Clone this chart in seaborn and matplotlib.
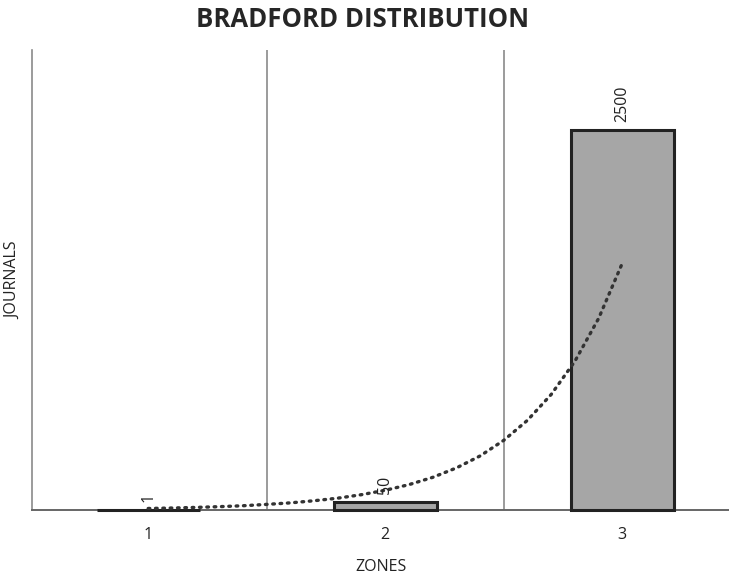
import matplotlib
matplotlib.use("Agg")
import matplotlib.pyplot as plt
import seaborn as sns
import pandas as pd

# Bradford zones and journal counts
zones = ["1", "2", "3"]
journals = [1, 50, 2500]

# dotted trend curve (zone position, value)
trend_x = [1.0, 1.1, 1.2, 1.3, 1.4, 1.5, 1.6, 1.7, 1.8, 1.9, 2.0,
           2.1, 2.2, 2.3, 2.4, 2.5, 2.6, 2.7, 2.8, 2.9, 3.0]
trend_y = [10, 13, 17, 22, 28, 37, 47, 61, 78, 101, 130,
           167, 215, 277, 356, 459, 591, 761, 980, 1262, 1626]

df = pd.DataFrame({"zone": zones, "journals": journals})

sns.set_theme(style="white")
plt.rcParams["font.family"] = ["Open Sans", "DejaVu Sans"]

fig = plt.figure(figsize=(7.29, 5.75), dpi=100)
ax = fig.add_axes([32 / 729, 1 - 510 / 575, 1 - 32 / 729, 460 / 575])

sns.barplot(data=df, x="zone", y="journals", color="#a6a6a6",
            edgecolor="#222222", linewidth=2.2, width=0.435, saturation=1,
            ax=ax, zorder=2.6)
# let the bar outlines sit over the baseline (zone 1 is just an outline)
for bar in ax.patches:
    bar.set_clip_on(False)

# zone separators
for sep in [0.5, 1.5]:
    ax.axvline(sep, color="#8a8a8a", linewidth=1.2, zorder=1)

# trend curve (zone positions are 0-based on the seaborn axis)
ax.plot([x - 1 for x in trend_x], trend_y, linestyle=(0, (0.5, 1.7)),
        color="#333333", linewidth=2.4, dash_capstyle="round",
        solid_joinstyle="round", zorder=3)

ax.bar_label(ax.containers[0], labels=[str(v) for v in journals],
             rotation=90, padding=6, fontsize=11.5, color="#222222")

ax.set_xlim(-0.49, 2.45)
ax.set_ylim(0, 3030)
ax.set_yticks([])
ax.tick_params(axis="x", length=0, labelsize=11.5, colors="#222222", pad=12)
ax.set_xlabel("ZONES", fontsize=11.5, color="#222222", labelpad=12)
ax.set_ylabel("JOURNALS", fontsize=11.5, color="#222222", labelpad=8)

for side in ["top", "right"]:
    ax.spines[side].set_visible(False)
ax.spines["left"].set_color("#8a8a8a")
ax.spines["left"].set_linewidth(1.2)
ax.spines["bottom"].set_color("#666666")
ax.spines["bottom"].set_linewidth(1.4)

fig.suptitle("BRADFORD DISTRIBUTION", fontsize=18.5, fontweight="bold",
             x=0.497, y=0.99, va="top")

fig.savefig("out.png", dpi=100)
